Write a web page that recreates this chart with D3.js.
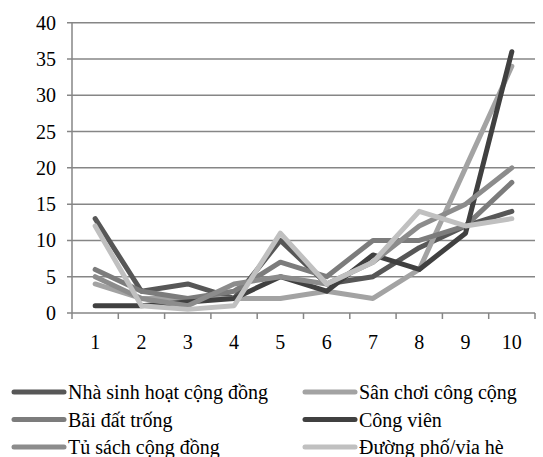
<!DOCTYPE html>
<html>
<head>
<meta charset="utf-8">
<script src="https://cdn.jsdelivr.net/npm/d3@7"></script>
<style>
  body { margin: 0; background: #fff; }
  text { font-family: "Liberation Serif", "Times New Roman", serif; fill: #000; }
</style>
</head>
<body>
<svg id="chart" width="543" height="457"></svg>
<script>
// dữ liệu
const categories = [1, 2, 3, 4, 5, 6, 7, 8, 9, 10];
const yTicks = [0, 5, 10, 15, 20, 25, 30, 35, 40];

const nhaSinhHoat = [13, 3, 4, 2, 10, 4, 5, 9, 12, 14];
const sanChoi = [4, 2, 2, 2, 2, 3, 2, 6, 20, 34];
const baiDatTrong = [6, 3, 2, 3, 7, 5, 10, 10, 12, 18];
const congVien = [1, 1, 1.5, 2, 5, 3, 8, 6, 11, 36];
const tuSach = [5, 2, 1, 4, 5, 4, 7, 12, 15, 20];
const duongPho = [12, 1, 0.5, 1, 11, 4, 7, 14, 12, 13];

const seriesNames = ["Nhà sinh hoạt cộng đồng", "Sân chơi công cộng", "Bãi đất trống",
                     "Công viên", "Tủ sách cộng đồng", "Đường phố/vỉa hè"];
const seriesValues = [nhaSinhHoat, sanChoi, baiDatTrong, congVien, tuSach, duongPho];
const seriesColors = ["#575757", "#a3a3a3", "#7c7c7c", "#404040", "#8c8c8c", "#c0c0c0"];

const svg = d3.select("#chart");
const mLeft = 72, mRight = 535, mTop = 22.7, mBottom = 313;

const x = d3.scaleBand().domain(categories).range([mLeft, mRight]);
const y = d3.scaleLinear().domain([0, 40]).range([mBottom, mTop]);

// lưới ngang
svg.append("g").selectAll("line").data(yTicks).join("line")
    .attr("x1", mLeft - 5).attr("x2", mRight)
    .attr("y1", d => y(d)).attr("y2", d => y(d))
    .attr("stroke", "#868686").attr("stroke-width", 1.5);

// trục y
svg.append("line")
    .attr("x1", mLeft).attr("x2", mLeft).attr("y1", mTop).attr("y2", mBottom)
    .attr("stroke", "#868686").attr("stroke-width", 1.5);

svg.append("g").selectAll("text").data(yTicks).join("text")
    .attr("x", 56).attr("y", d => y(d)).attr("dy", "0.35em")
    .attr("text-anchor", "end").attr("font-size", 20)
    .text(d => d);

// vạch trục x
const bounds = categories.map(c => x(c)).concat([mRight]);
svg.append("g").selectAll("line").data(bounds).join("line")
    .attr("x1", d => d).attr("x2", d => d).attr("y1", mBottom).attr("y2", mBottom + 6)
    .attr("stroke", "#868686").attr("stroke-width", 1.5);

svg.append("g").selectAll("text").data(categories).join("text")
    .attr("x", d => x(d) + x.bandwidth() / 2).attr("y", 342).attr("dy", "0.35em")
    .attr("text-anchor", "middle").attr("font-size", 20)
    .text(d => d);

// đường
const line = d3.line()
    .x((d, i) => x(categories[i]) + x.bandwidth() / 2)
    .y(d => y(d));

svg.append("g").selectAll("path").data(seriesValues).join("path")
    .attr("d", line)
    .attr("fill", "none")
    .attr("stroke", (d, i) => seriesColors[i])
    .attr("stroke-width", 5)
    .attr("stroke-linejoin", "round")
    .attr("stroke-linecap", "round");

// chú giải
const legend = svg.append("g").selectAll("g").data(seriesNames).join("g")
    .attr("transform", (d, i) => `translate(${i % 2 === 0 ? 12 : 303},${392 + Math.floor(i / 2) * 27.5})`);

legend.append("line")
    .attr("x1", 2).attr("x2", 52).attr("y1", 0).attr("y2", 0)
    .attr("stroke", (d, i) => seriesColors[i])
    .attr("stroke-width", 5).attr("stroke-linecap", "round");

legend.append("text")
    .attr("x", 56).attr("y", 0).attr("dy", "0.35em")
    .attr("font-size", 20)
    .text(d => d);
</script>
</body>
</html>
